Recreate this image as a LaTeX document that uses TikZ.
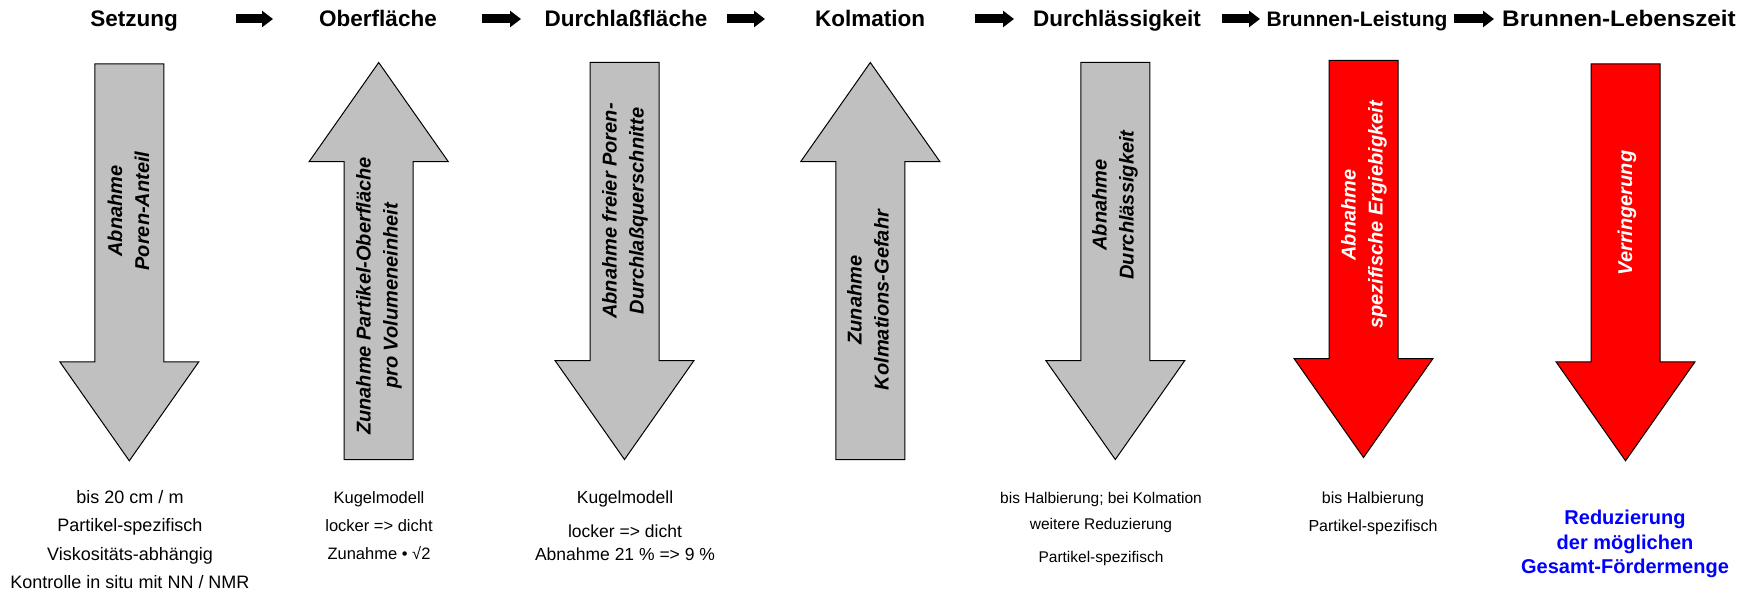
\documentclass[tikz,border=0pt]{standalone}
\usepackage{graphicx}
\usepackage{fontspec}
\setmainfont{Liberation Sans}
\usetikzlibrary{arrows.meta}
\definecolor{pfeilgrau}{HTML}{C0C0C0}
\definecolor{pfeilrot}{HTML}{FF0000}
\definecolor{mengenblau}{HTML}{0000FF}
\tikzset{
  titel/.style={font=\bfseries\fontsize{22.5}{26}\selectfont, anchor=base, inner sep=0pt},
  kopfpfeil/.style={line width=9pt, -{Triangle[length=11pt,width=16pt]}},
  pfeilrand/.style={draw=black, line width=1pt, line join=miter},
  pfeiltext/.style={font=\bfseries\itshape\fontsize{20}{27}\selectfont, rotate=90, align=center, inner sep=0pt},
  notiz/.style={font=\fontsize{16}{19}\selectfont, anchor=base, inner sep=0pt},
  ergebnis/.style={font=\bfseries\fontsize{20}{24}\selectfont, text=mengenblau, anchor=base, inner sep=0pt},
  runter/.pic={
    \path[pfeilrand, fill=#1] (-34.5,-198.5) -- (34.5,-198.5) -- (34.5,99.5) -- (69.5,99.5)
      -- (0,198.5) -- (-69.5,99.5) -- (-34.5,99.5) -- cycle;
  },
  hoch/.pic={
    \path[pfeilrand, fill=#1] (-34.5,198.5) -- (34.5,198.5) -- (34.5,-99.5) -- (69.5,-99.5)
      -- (0,-198.5) -- (-69.5,-99.5) -- (-34.5,-99.5) -- cycle;
  }
}
\begin{document}
\begin{tikzpicture}[x=1pt, y=-1pt]
\useasboundingbox (0,0) rectangle (1758,599);

% Kopfzeile
\node[titel] (setzung) at (134,26.7) {Setzung};
\node[titel] (oberflaeche) at (378,26.7) {Oberfläche};
\node[titel] (durchlass) at (626,26.7) {Durchlaßfläche};
\node[titel] (kolmation) at (870,26.7) {Kolmation};
\node[titel] (durchlaessig) at (1117,26.7) {Durchlässigkeit};
\node[titel, font=\bfseries\fontsize{21}{25}\selectfont] (leistung) at (1357,26.7) {Brunnen-Leistung};
\node[titel] (lebenszeit) at (1619,26.7) {\scalebox{1.08}[1]{Brunnen-Lebenszeit}};

\coordinate (k1a) at (236,19); \coordinate (k1b) at (273,19);
\coordinate (k2a) at (482,19); \coordinate (k2b) at (521,19);
\coordinate (k3a) at (727,19); \coordinate (k3b) at (765,19);
\coordinate (k4a) at (975,19); \coordinate (k4b) at (1014,19);
\coordinate (k5a) at (1222,19); \coordinate (k5b) at (1260,19);
\coordinate (k6a) at (1454,19); \coordinate (k6b) at (1494,19);
\draw[kopfpfeil] (k1a) -- (k1b);
\draw[kopfpfeil] (k2a) -- (k2b);
\draw[kopfpfeil] (k3a) -- (k3b);
\draw[kopfpfeil] (k4a) -- (k4b);
\draw[kopfpfeil] (k5a) -- (k5b);
\draw[kopfpfeil] (k6a) -- (k6b);

% grosse Pfeile
\pic at (129.3,262.3) {runter=pfeilgrau};
\pic at (378.7,261) {hoch=pfeilgrau};
\pic at (624.5,261) {runter=pfeilgrau};
\pic at (870.3,261) {hoch=pfeilgrau};
\pic at (1115.3,261) {runter=pfeilgrau};
\pic at (1363.5,259) {runter=pfeilrot};
\pic at (1625.5,262.3) {runter=pfeilrot};

\node[pfeiltext] (poren) at (128.5,211) {Abnahme\\Poren-Anteil};
\node[pfeiltext] (partikel) at (379,296) {Zunahme Partikel-Oberfläche\\pro Volumeneinheit};
\node[pfeiltext] (querschnitt) at (625,211) {Abnahme freier Poren-\\Durchlaßquerschnitte};
\node[pfeiltext] (gefahr) at (868,300) {Zunahme\\Kolmations-Gefahr};
\node[pfeiltext] (abnahme) at (1115,205) {Abnahme\\Durchlässigkeit};
\node[pfeiltext, text=white] (ergiebig) at (1364,215) {Abnahme\\spezifische Ergiebigkeit};
\node[pfeiltext, text=white] (verringerung) at (1627,213) {Verringerung};

% Anmerkungen
\node[notiz, font=\fontsize{18}{21}\selectfont] (s1) at (130,503) {bis 20 cm / m};
\node[notiz, font=\fontsize{18}{21}\selectfont] (s2) at (130,531) {Partikel-spezifisch};
\node[notiz, font=\fontsize{18}{21}\selectfont] (s3) at (130,560) {Viskositäts-abhängig};
\node[notiz, font=\fontsize{18}{21}\selectfont] (s4) at (130,588) {Kontrolle in situ mit NN / NMR};

\node[notiz, font=\fontsize{16.5}{19}\selectfont] (o1) at (379,503) {Kugelmodell};
\node[notiz, font=\fontsize{16.5}{19}\selectfont] (o2) at (379,531) {locker => dicht};
\node[notiz, font=\fontsize{16.5}{19}\selectfont] (o3) at (379,559) {Zunahme • √2};

\node[notiz, font=\fontsize{17.5}{21}\selectfont] (d1) at (625,503) {Kugelmodell};
\node[notiz, font=\fontsize{17.5}{21}\selectfont] (d2) at (625,537) {locker => dicht};
\node[notiz, font=\fontsize{17.5}{21}\selectfont] (d3) at (625,560) {Abnahme 21 \% => 9 \%};

\node[notiz, font=\fontsize{15.5}{19}\selectfont] (p1) at (1101,503) {bis Halbierung; bei Kolmation};
\node[notiz, font=\fontsize{15.5}{19}\selectfont] (p2) at (1101,529) {weitere Reduzierung};
\node[notiz, font=\fontsize{15.5}{19}\selectfont] (p3) at (1101,562) {Partikel-spezifisch};

\node[notiz] (l1) at (1373,503) {bis Halbierung};
\node[notiz] (l2) at (1373,531) {Partikel-spezifisch};

\node[ergebnis] (g1) at (1625,524) {Reduzierung};
\node[ergebnis] (g2) at (1625,549) {der möglichen};
\node[ergebnis] (g3) at (1625,573) {Gesamt-Fördermenge};

\end{tikzpicture}
\end{document}
